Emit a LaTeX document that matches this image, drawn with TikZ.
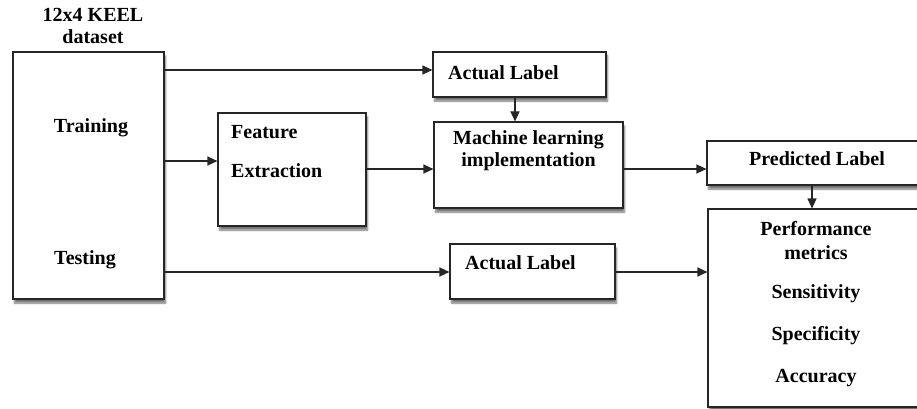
\documentclass[tikz,border=0pt]{standalone}
\usepackage{fontspec}
\setmainfont{Liberation Serif}
\usetikzlibrary{arrows.meta,shadows.blur}
\begin{document}
\begin{tikzpicture}[x=1pt,y=-1pt,
  box/.style={draw=black!85,line width=1.1pt,fill=white,inner sep=0pt,
    blur shadow={shadow xshift=1.5pt,shadow yshift=-4pt,shadow blur steps=6,shadow opacity=55}},
  txt/.style={inner sep=0pt,font=\bfseries\fontsize{20}{22}\selectfont,text=black},
  arr/.style={line width=1.1pt,black!85,-{Triangle[length=10pt,width=9pt]}}]
\useasboundingbox (0,0) rectangle (917,409);
\clip (0,0) rectangle (917,409);
% boxes (x1,y1,x2,y2 in pixels)
\node[box,minimum width=151pt,minimum height=247pt] (data) at (88.5,175.5) {};
\node[box,minimum width=173pt,minimum height=45pt] (act1) at (519.5,74.5) {};
\node[box,minimum width=148pt,minimum height=113pt] (feat) at (292,169.5) {};
\node[box,minimum width=189pt,minimum height=86pt] (ml) at (528.5,165) {};
\node[box,minimum width=220pt,minimum height=44pt] (pred) at (817,163) {};
\node[box,minimum width=165pt,minimum height=55pt] (act2) at (532.5,271.5) {};
\node[box,minimum width=220pt,minimum height=198pt] (perf) at (818,308) {};
% texts
\node[txt,align=center] (ttitle) at (93,26) {12x4 KEEL\\dataset};
\node[txt] (ttrain) at (91,128) {Training};
\node[txt] (ttest) at (85,260) {Testing};
\node[txt,anchor=west] (tfeat1) at (231,132) {Feature};
\node[txt,anchor=west] (tfeat2) at (231,171) {Extraction};
\node[txt,anchor=west] (tact1) at (448,73) {Actual Label};
\node[txt] (tml1) at (528.5,140) {Machine learning};
\node[txt] (tml2) at (528.5,162) {implementation};
\node[txt] (tpred) at (817,159) {Predicted Label};
\node[txt,anchor=west] (tact2) at (465,263) {Actual Label};
\node[txt] (tp1) at (816,229) {Performance};
\node[txt] (tp2) at (816,253) {metrics};
\node[txt] (tp3) at (816,294) {Sensitivity};
\node[txt] (tp4) at (816,336) {Specificity};
\node[txt] (tp5) at (816,378) {Accuracy};
% level coordinates
\coordinate (y70) at (0,70);
\coordinate (y161) at (0,161);
\coordinate (y169) at (0,169);
\coordinate (y272) at (0,272);
\coordinate (x515) at (515,0);
\coordinate (x812) at (812,0);
% connectors
\draw[arr] (data.east |- y70) -- (act1.west |- y70);
\draw[arr] (data.east |- y161) -- (feat.west |- y161);
\draw[arr] (feat.east |- y169) -- (ml.west |- y169);
\draw[arr] (act1.south -| x515) -- (ml.north -| x515);
\draw[arr] (ml.east |- y169) -- (pred.west |- y169);
\draw[arr] (pred.south -| x812) -- (perf.north -| x812);
\draw[arr] (data.east |- y272) -- (act2.west |- y272);
\draw[arr] (act2.east |- y272) -- (perf.west |- y272);
\end{tikzpicture}
\end{document}
